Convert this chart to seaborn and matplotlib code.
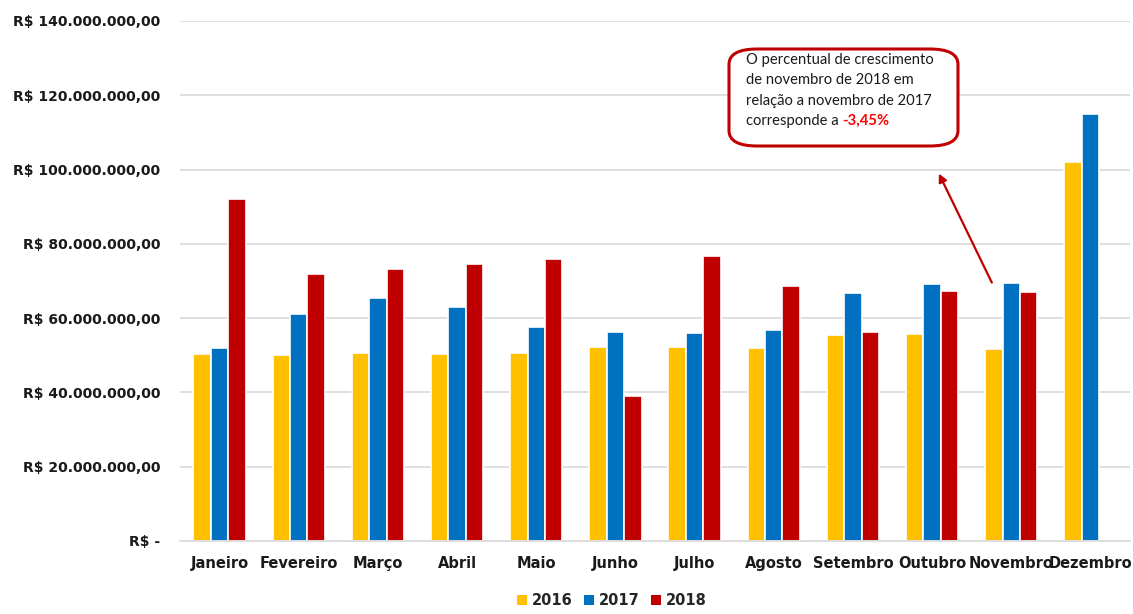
import matplotlib
matplotlib.use("Agg")
import matplotlib.pyplot as plt
import seaborn as sns
import pandas as pd
import numpy as np
from matplotlib.patches import FancyBboxPatch, Patch
from matplotlib.ticker import FuncFormatter

meses = ["Janeiro", "Fevereiro", "Março", "Abril", "Maio", "Junho", "Julho",
         "Agosto", "Setembro", "Outubro", "Novembro", "Dezembro"]
anos = ["2016", "2017", "2018"]
v2016 = [50.3, 50.1, 50.7, 50.3, 50.7, 52.2, 52.2, 51.9, 55.5, 55.7, 51.6, 102.1]
v2017 = [51.9, 61.2, 65.5, 63.0, 57.6, 56.4, 56.1, 56.8, 66.7, 69.1, 69.4, 115.0]
v2018 = [92.2, 71.8, 73.2, 74.5, 76.0, 39.0, 76.8, 68.7, 56.4, 67.3, 67.0, np.nan]
cores = ["#FFC000", "#0070C0", "#C00000"]
yticks = [0, 20, 40, 60, 80, 100, 120, 140]

rows = []
for ano, vals in zip(anos, [v2016, v2017, v2018]):
    for m, v in zip(meses, vals):
        rows.append({"Mês": m, "Ano": ano, "Valor": v * 1e6})
df = pd.DataFrame(rows)

sns.set_theme(style="white")
plt.rcParams['font.family'] = ['DejaVu Sans']

fig = plt.figure(figsize=(11.33, 6.14), dpi=100)
ax = fig.add_axes([180/1133, 1 - 541/614, 950/1133, 520/614])

sns.barplot(data=df, x="Mês", y="Valor", hue="Ano", order=meses, hue_order=anos,
            palette=cores, width=0.66, edgecolor="white", linewidth=1.2,
            saturation=1, ax=ax, legend=False)

ax.set_ylim(0, 140e6)
ax.set_yticks([t * 1e6 for t in yticks])

def fmt(v, pos):
    if v == 0:
        return "R$ -"
    s = f"{v:,.2f}".replace(",", "X").replace(".", ",").replace("X", ".")
    return "R$ " + s

ax.yaxis.set_major_formatter(FuncFormatter(fmt))
ax.grid(axis="y", color="#D9D9D9", linewidth=1.2)
ax.set_axisbelow(True)
for s in ["top", "right", "left"]:
    ax.spines[s].set_visible(False)
ax.spines["bottom"].set_color("#D9D9D9")
ax.spines["bottom"].set_linewidth(1.2)
ax.set_xlabel("")
ax.set_ylabel("")
ax.tick_params(axis="y", length=0, pad=14, labelsize=10, labelcolor="#1a1a1a")
ax.tick_params(axis="x", length=0, pad=11, labelsize=10.5, labelcolor="#1a1a1a")
for lab in ax.get_yticklabels() + ax.get_xticklabels():
    lab.set_fontweight("bold")

handles = [Patch(facecolor=c, edgecolor="none", label=a) for c, a in zip(cores, anos)]
leg = fig.legend(handles=handles, loc="lower center", bbox_to_anchor=(612/1133, -0.012),
                 ncol=3, frameon=False, handlelength=0.7, handleheight=0.7,
                 handletextpad=0.3, columnspacing=0.8,
                 prop={"weight": "bold", "size": 10.5})

# annotation box
W, H = 1133, 614
box = FancyBboxPatch((729/W, 1 - 146/H), (958 - 729)/W, (146 - 49)/H,
                     boxstyle="round,pad=0,rounding_size=0.025",
                     transform=fig.transFigure, facecolor="white",
                     edgecolor="#C00000", linewidth=2.2, zorder=5)
fig.patches.append(box)

linhas = ["O percentual de crescimento", "de novembro de 2018 em",
          "relação a novembro de 2017"]
ys = [60, 80, 101]
tf = "Lato"
for t, y in zip(linhas, ys):
    fig.text(746/W, 1 - y/H, t, fontsize=10.6, family=tf, va="center", ha="left",
             color="#1a1a1a", zorder=6)
t1 = fig.text(746/W, 1 - 121/H, "corresponde a ", fontsize=10.6, family=tf,
              va="center", ha="left", color="#1a1a1a", zorder=6)
fig.canvas.draw()
bb = t1.get_window_extent()
fig.text(bb.x1 / W, 1 - 121/H, "-3,45%", fontsize=10.6, family=tf,
         fontweight="bold", va="center", ha="left", color="#FF0000", zorder=6)

# arrow from November bar group toward box
ax.annotate("", xy=(9.07, 99.6e6), xytext=(9.77, 68.9e6),
            arrowprops=dict(arrowstyle="-|>", color="#C00000", lw=1.6,
                            mutation_scale=12))

fig.savefig("out.png", dpi=100)
